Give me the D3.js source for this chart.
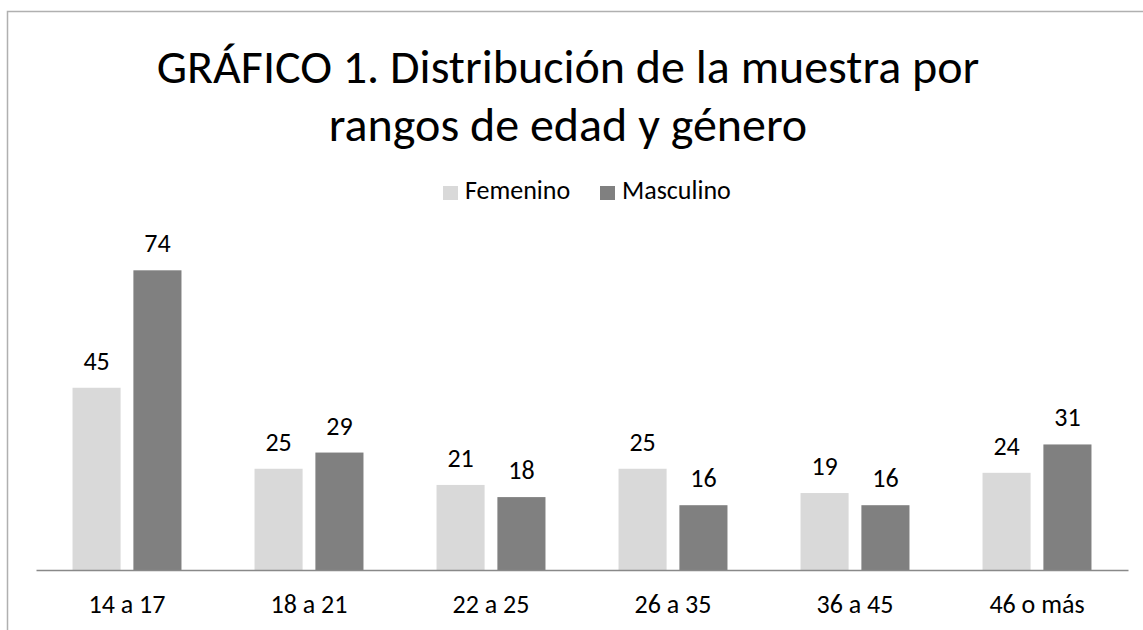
<!DOCTYPE html>
<html>
<head>
<meta charset="utf-8">
<script src="https://cdn.jsdelivr.net/npm/d3@7"></script>
<style>
  body { margin: 0; background: #fff; }
  text { font-family: Calibri, Carlito, Lato, sans-serif; fill: #000; }
</style>
</head>
<body>
<div id="chart"></div>
<script>
/* DATA */
const categories = ["14 a 17", "18 a 21", "22 a 25", "26 a 35", "36 a 45", "46 o más"];
const seriesNames = ["Femenino", "Masculino"];
const femenino = [45, 25, 21, 25, 19, 24];
const masculino = [74, 29, 18, 16, 16, 31];
const titleLines = ["GRÁFICO 1. Distribución de la muestra por", "rangos de edad y género"];

const width = 1143, height = 630;
const margin = { top: 246, bottom: 60, left: 36, right: 15 };
const colors = { Femenino: "#d9d9d9", Masculino: "#808080" };

const rows = categories.map((c, i) => ({ cat: c, Femenino: femenino[i], Masculino: masculino[i] }));

const svg = d3.select("#chart").append("svg")
  .attr("width", width)
  .attr("height", height);

// chart frame
svg.append("rect")
  .attr("x", 7.5).attr("y", 11.5)
  .attr("width", width + 10).attr("height", height + 10)
  .attr("fill", "none")
  .attr("stroke", "#b0b0b0")
  .attr("stroke-width", 1.5);

// scales
const x0 = d3.scaleBand()
  .domain(categories)
  .range([margin.left, width - margin.right])
  .padding(0);

const x1 = d3.scaleBand()
  .domain(seriesNames)
  .range([0, x0.bandwidth()])
  .paddingInner(0.21)
  .paddingOuter(0.6);

const y = d3.scaleLinear()
  .domain([0, 80])
  .range([height - margin.bottom, margin.top]);

// title
svg.append("g")
  .selectAll("text")
  .data(titleLines)
  .join("text")
  .attr("x", 568)
  .attr("y", (d, i) => 83 + i * 58)
  .attr("text-anchor", "middle")
  .style("font-size", "48px")
  .text(d => d);

// legend
const legendX = [443, 600];
const legend = svg.append("g")
  .selectAll("g")
  .data(seriesNames)
  .join("g")
  .attr("transform", (d, i) => `translate(${legendX[i]}, 186)`);
legend.append("rect")
  .attr("width", 15).attr("height", 14)
  .attr("fill", d => colors[d]);
legend.append("text")
  .attr("x", 22).attr("y", 13)
  .style("font-size", "26px")
  .text(d => d);

// bars
const groups = svg.append("g")
  .selectAll("g")
  .data(rows)
  .join("g")
  .attr("transform", d => `translate(${x0(d.cat)}, 0)`);

const cells = groups.selectAll("g")
  .data(d => seriesNames.map(s => ({ key: s, value: d[s] })))
  .join("g");

cells.append("rect")
  .attr("x", d => x1(d.key))
  .attr("y", d => y(d.value))
  .attr("width", x1.bandwidth())
  .attr("height", d => y(0) - y(d.value))
  .attr("fill", d => colors[d.key]);

cells.append("text")
  .attr("x", d => x1(d.key) + x1.bandwidth() / 2)
  .attr("y", d => y(d.value) - 18)
  .attr("text-anchor", "middle")
  .style("font-size", "26px")
  .text(d => d.value);

// x axis
const xAxis = svg.append("g")
  .attr("transform", `translate(0, ${y(0)})`)
  .call(d3.axisBottom(x0).tickSize(0).tickPadding(24.5));
xAxis.select(".domain").attr("stroke", "#898989").attr("stroke-width", 1.5);
xAxis.selectAll("text")
  .style("font-size", "26px")
  .style("font-family", "Calibri, Carlito, Lato, sans-serif")
  .attr("fill", "#000");
</script>
</body>
</html>
